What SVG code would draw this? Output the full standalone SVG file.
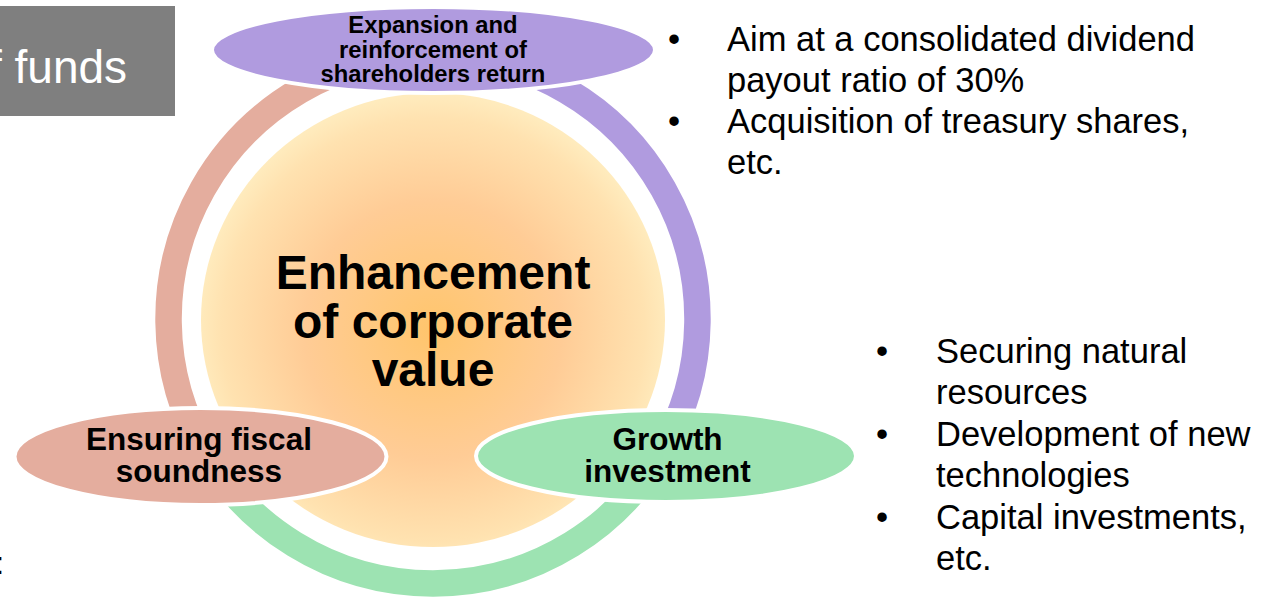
<svg xmlns="http://www.w3.org/2000/svg" width="1266" height="598" viewBox="0 0 1266 598">
  <defs>
    <radialGradient id="coreFill" cx="433" cy="330" r="235" gradientUnits="userSpaceOnUse">
      <stop offset="0" stop-color="#FFC56C"/>
      <stop offset="0.55" stop-color="#FFCC96"/>
      <stop offset="0.9" stop-color="#FFE2B0"/>
      <stop offset="1" stop-color="#FFEBBD"/>
    </radialGradient>
  </defs>
  <style>
    .ring { fill: none; stroke-width: 26.5; stroke-linecap: butt; }
    .pod { stroke: #FFFFFF; stroke-width: 4; }
    .lbl { font-family: "Liberation Sans", Arial, sans-serif; font-weight: bold; fill: #000000; text-anchor: middle; }
    .body { font-family: "Liberation Sans", Arial, sans-serif; font-size: 34.5px; fill: #000000; }
  </style>

  <rect id="title-box" x="0" y="6" width="175" height="110" fill="#7F7F7F"/>
  <text x="-11" y="83" font-family="Liberation Sans, Arial, sans-serif" font-size="46" fill="#FFFFFF">f funds</text>
  <text x="-4.5" y="574" font-family="Liberation Sans, Arial, sans-serif" font-size="31" fill="#000000">:</text>

  <!-- cycle ring: three arcs, joints hidden under the pods -->
  <g id="connectors">
    <path class="ring" stroke="#E4AD9E" d="M206.3 455.2 A264.5 264.5 0 0 1 433 54.5"/>
    <path class="ring" stroke="#B09BDF" d="M433 54.5 A264.5 264.5 0 0 1 659.7 455.2"/>
    <path class="ring" stroke="#9DE3B2" d="M659.7 455.2 A264.5 264.5 0 0 1 206.3 455.2"/>
  </g>

  <g id="core">
    <ellipse cx="433" cy="320" rx="232" ry="227" fill="url(#coreFill)"/>
    <text class="lbl" font-size="48" x="433" y="289">Enhancement</text>
    <text class="lbl" font-size="48" x="433" y="338">of corporate</text>
    <text class="lbl" font-size="48" x="433" y="386">value</text>
  </g>

  <g id="shareholders-return">
    <ellipse class="pod" cx="433.5" cy="50" rx="221.5" ry="43" fill="#B09BDF"/>
    <text class="lbl" font-size="23.8" x="433" y="33">Expansion and</text>
    <text class="lbl" font-size="23.8" x="433" y="58">reinforcement of</text>
    <text class="lbl" font-size="23.8" x="433" y="82">shareholders return</text>
  </g>

  <g id="fiscal-soundness">
    <ellipse class="pod" cx="200.5" cy="456.5" rx="186" ry="48.5" fill="#E4AD9E"/>
    <text class="lbl" font-size="31.5" x="199" y="450">Ensuring fiscal</text>
    <text class="lbl" font-size="31.5" x="199" y="482">soundness</text>
  </g>

  <g id="growth-investment">
    <ellipse class="pod" cx="666" cy="456" rx="190" ry="46" fill="#9DE3B2"/>
    <text class="lbl" font-size="31.5" x="667.5" y="450">Growth</text>
    <text class="lbl" font-size="31.5" x="667.5" y="482">investment</text>
  </g>

  <g id="return-notes" class="body">
    <text x="668" y="51">•</text>
    <text x="727" y="51">Aim at a consolidated dividend</text>
    <text x="727" y="92">payout ratio of 30%</text>
    <text x="668" y="133">•</text>
    <text x="727" y="133">Acquisition of treasury shares,</text>
    <text x="727" y="174">etc.</text>
  </g>

  <g id="growth-notes" class="body">
    <text x="876" y="363">•</text>
    <text x="936" y="363">Securing natural</text>
    <text x="936" y="404">resources</text>
    <text x="876" y="446">•</text>
    <text x="936" y="446">Development of new</text>
    <text x="936" y="487">technologies</text>
    <text x="876" y="529">•</text>
    <text x="936" y="529">Capital investments,</text>
    <text x="936" y="570">etc.</text>
  </g>
</svg>
